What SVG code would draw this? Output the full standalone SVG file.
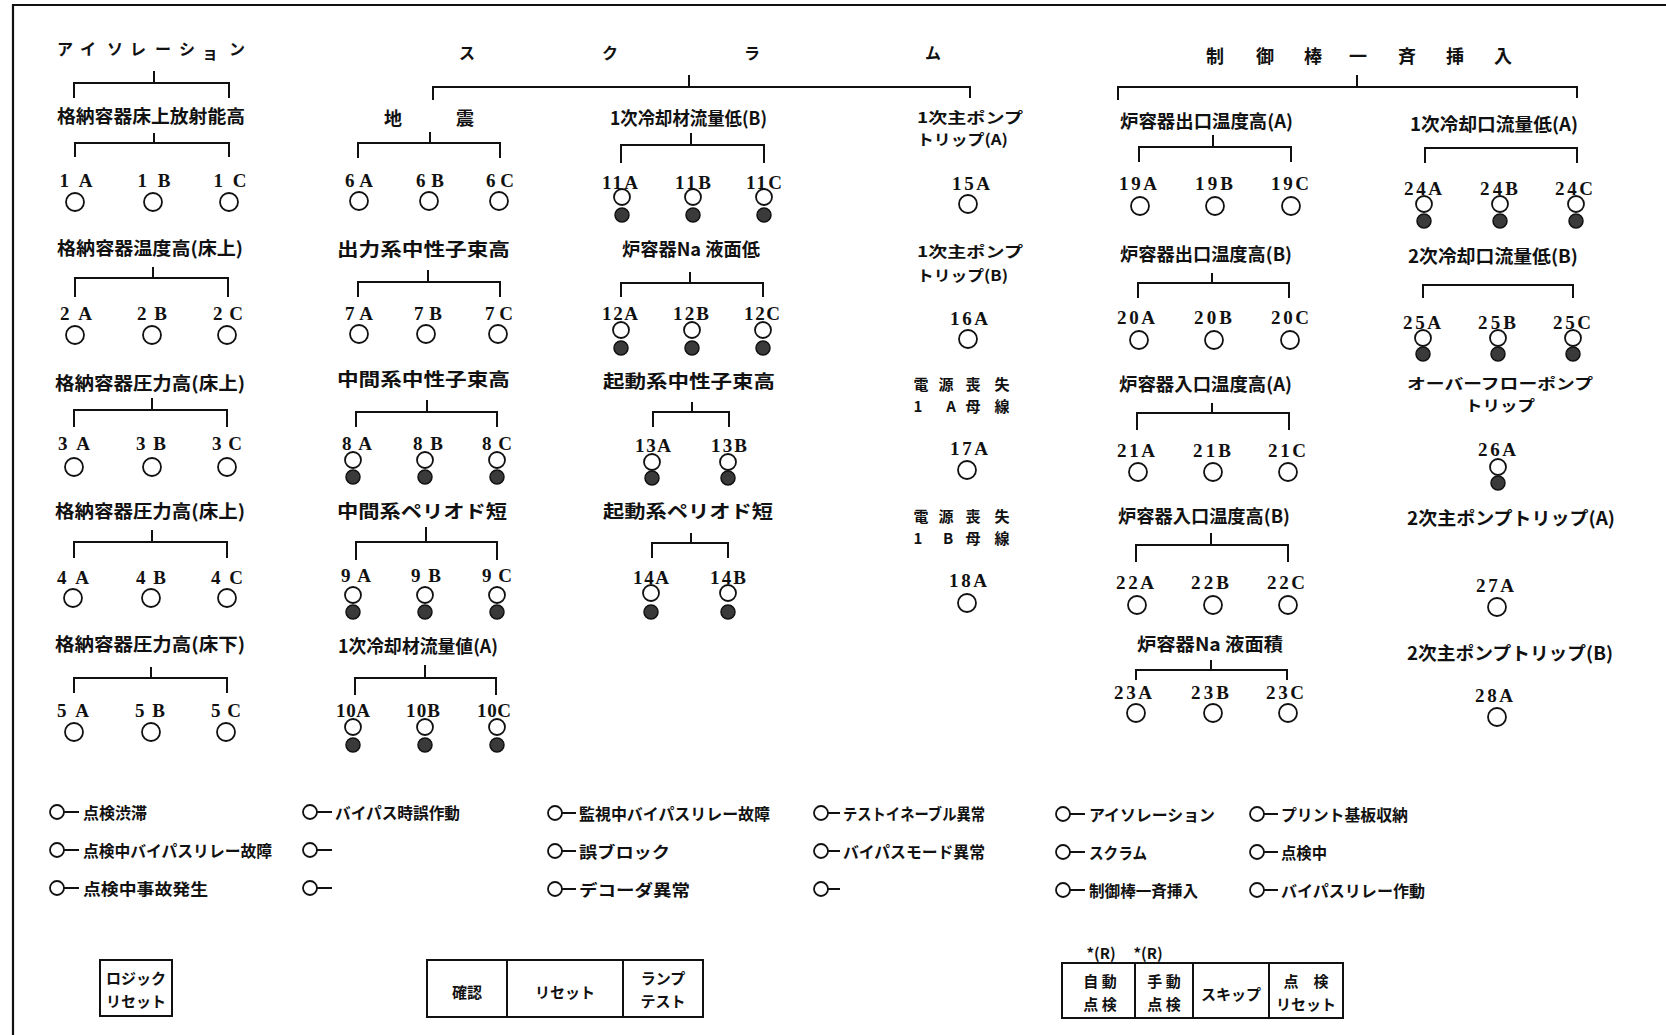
<svg xmlns="http://www.w3.org/2000/svg" width="1666" height="1035" viewBox="0 0 1666 1035">
<style>
.t{font-family:"Noto Sans CJK JP","Noto Sans CJK SC",sans-serif;font-size:18px;font-weight:700;fill:#111;dominant-baseline:central}
.t2{font-family:"Noto Sans CJK JP","Noto Sans CJK SC",sans-serif;font-size:15px;font-weight:700;fill:#111;dominant-baseline:central}
.s{font-family:"Noto Sans CJK JP","Noto Sans CJK SC",sans-serif;font-size:16px;font-weight:700;fill:#111;dominant-baseline:central}
.b{font-family:"Noto Sans CJK JP","Noto Sans CJK SC",sans-serif;font-size:15px;font-weight:700;fill:#111;dominant-baseline:central;text-anchor:middle}
.l{font-family:"Liberation Serif",serif;font-size:19px;font-weight:700;fill:#111;dominant-baseline:central;text-anchor:middle}
.m{text-anchor:middle}
.c{fill:#fff;stroke:#111;stroke-width:1.8}
.f{fill:#3a3a3a;stroke:#111;stroke-width:1.5}
.br{fill:none;stroke:#111;stroke-width:2}
.fr{fill:none;stroke:#111;stroke-width:2.2}
</style>
<rect width="1666" height="1035" fill="#fff"/>
<path class="fr" d="M13 1035 V5 H1666"/>
<g id="connectors">
<path class="br" d="M74 98 V83 H229 V98 M154 71 V83"/>
<path class="br" d="M75 157 V143 H229 V157 M154 133 V143"/>
<path class="br" d="M75 297 V278 H228 V297 M153 267 V278"/>
<path class="br" d="M74 427 V410 H227 V427 M152 398 V410"/>
<path class="br" d="M74 558 V542 H227 V558 M152 530 V542"/>
<path class="br" d="M74 693 V678 H227 V693 M151 667 V678"/>
<path class="br" d="M433 100 V87 H970 V98 M689 75 V87"/>
<path class="br" d="M358 158 V143 H500 V158 M430 132 V143"/>
<path class="br" d="M358 297 V282 H500 V297 M428 270 V282"/>
<path class="br" d="M356 427 V412 H497 V427 M427 400 V412"/>
<path class="br" d="M356 560 V542 H497 V560 M426 527 V542"/>
<path class="br" d="M355 695 V678 H496 V695 M425 665 V678"/>
<path class="br" d="M621 163 V145 H764 V163 M691 133 V145"/>
<path class="br" d="M621 297 V283 H763 V297 M690 272 V283"/>
<path class="br" d="M653 427 V412 H729 V427 M692 402 V412"/>
<path class="br" d="M652 558 V543 H728 V558 M691 533 V543"/>
<path class="br" d="M1118 100 V87 H1577 V98 M1357 75 V87"/>
<path class="br" d="M1139 162 V147 H1291 V162 M1213 135 V147"/>
<path class="br" d="M1138 298 V283 H1289 V298 M1212 273 V283"/>
<path class="br" d="M1137 430 V413 H1289 V430 M1212 403 V413"/>
<path class="br" d="M1136 562 V545 H1288 V562 M1211 533 V545"/>
<path class="br" d="M1136 680 V670 H1287 V680 M1211 660 V670"/>
<path class="br" d="M1425 163 V148 H1577 V163"/>
<path class="br" d="M1423 298 V285 H1573 V298"/>
</g>
<g id="title-isolation"><text class="s m" x="65 88 115 138 163 187" y="48">アイソレーシ</text><text class="s m" x="210" y="52" font-size="12">ョ</text><text class="s m" x="237" y="48">ン</text></g>
<g id="title-scram"><text class="s m" x="467 610 752 933" y="52">スクラム</text></g>
<g id="title-rod"><text class="t m" x="1215 1265 1313 1358 1407 1455 1503" y="55">制御棒一斉挿入</text></g>
<g id="h1"><text class="t" x="57" y="115" textLength="188" lengthAdjust="spacingAndGlyphs">格納容器床上放射能高</text></g>
<g id="h2"><text class="t" x="57" y="247" textLength="186" lengthAdjust="spacingAndGlyphs">格納容器温度高(床上)</text></g>
<g id="h3"><text class="t" x="55" y="382" textLength="190" lengthAdjust="spacingAndGlyphs">格納容器圧力高(床上)</text></g>
<g id="h4"><text class="t" x="55" y="510" textLength="190" lengthAdjust="spacingAndGlyphs">格納容器圧力高(床上)</text></g>
<g id="h5"><text class="t" x="55" y="643" textLength="190" lengthAdjust="spacingAndGlyphs">格納容器圧力高(床下)</text></g>
<g id="n1A"><text class="l" x="76" y="180" textLength="33">1 A</text><circle class="c" cx="75" cy="202" r="9"/></g>
<g id="n1B"><text class="l" x="154" y="180" textLength="33">1 B</text><circle class="c" cx="153" cy="202" r="9"/></g>
<g id="n1C"><text class="l" x="230" y="180" textLength="33">1 C</text><circle class="c" cx="229" cy="202" r="9"/></g>
<g id="n2A"><text class="l" x="76" y="313" textLength="32">2 A</text><circle class="c" cx="75" cy="335" r="9"/></g>
<g id="n2B"><text class="l" x="152" y="313" textLength="30">2 B</text><circle class="c" cx="152" cy="335" r="9"/></g>
<g id="n2C"><text class="l" x="228" y="313" textLength="30">2 C</text><circle class="c" cx="227" cy="335" r="9"/></g>
<g id="n3A"><text class="l" x="74" y="443" textLength="32">3 A</text><circle class="c" cx="74" cy="467" r="9"/></g>
<g id="n3B"><text class="l" x="151" y="443" textLength="30">3 B</text><circle class="c" cx="152" cy="467" r="9"/></g>
<g id="n3C"><text class="l" x="227" y="443" textLength="30">3 C</text><circle class="c" cx="227" cy="467" r="9"/></g>
<g id="n4A"><text class="l" x="73" y="577" textLength="32">4 A</text><circle class="c" cx="73" cy="598" r="9"/></g>
<g id="n4B"><text class="l" x="151" y="577" textLength="30">4 B</text><circle class="c" cx="151" cy="598" r="9"/></g>
<g id="n4C"><text class="l" x="227" y="577" textLength="32">4 C</text><circle class="c" cx="227" cy="598" r="9"/></g>
<g id="n5A"><text class="l" x="73" y="710" textLength="32">5 A</text><circle class="c" cx="74" cy="732" r="9"/></g>
<g id="n5B"><text class="l" x="150" y="710" textLength="30">5 B</text><circle class="c" cx="151" cy="732" r="9"/></g>
<g id="n5C"><text class="l" x="226" y="710" textLength="30">5 C</text><circle class="c" cx="226" cy="732" r="9"/></g>
<g id="h6"><text class="t m" x="393 465" y="117">地震</text></g>
<g id="h7"><text class="t" x="337" y="248" textLength="173" lengthAdjust="spacingAndGlyphs">出力系中性子束高</text></g>
<g id="h8"><text class="t" x="337" y="378" textLength="173" lengthAdjust="spacingAndGlyphs">中間系中性子束高</text></g>
<g id="h9"><text class="t" x="337" y="510" textLength="170" lengthAdjust="spacingAndGlyphs">中間系ペリオド短</text></g>
<g id="h10"><text class="t" x="338" y="645" textLength="160" lengthAdjust="spacingAndGlyphs">1次冷却材流量値(A)</text></g>
<g id="n6A"><text class="l" x="359" y="180" textLength="28">6 A</text><circle class="c" cx="359" cy="201" r="9"/></g>
<g id="n6B"><text class="l" x="430" y="180" textLength="28">6 B</text><circle class="c" cx="429" cy="201" r="9"/></g>
<g id="n6C"><text class="l" x="500" y="180" textLength="28">6 C</text><circle class="c" cx="499" cy="201" r="9"/></g>
<g id="n7A"><text class="l" x="359" y="313" textLength="28">7 A</text><circle class="c" cx="359" cy="334" r="9"/></g>
<g id="n7B"><text class="l" x="428" y="313" textLength="28">7 B</text><circle class="c" cx="426" cy="334" r="9"/></g>
<g id="n7C"><text class="l" x="499" y="313" textLength="28">7 C</text><circle class="c" cx="498" cy="334" r="9"/></g>
<g id="n8A"><text class="l" x="357" y="443" textLength="30">8 A</text><circle class="c" cx="353" cy="460" r="8"/><circle class="f" cx="353" cy="477" r="7"/></g>
<g id="n8B"><text class="l" x="428" y="443" textLength="30">8 B</text><circle class="c" cx="425" cy="460" r="8"/><circle class="f" cx="425" cy="477" r="7"/></g>
<g id="n8C"><text class="l" x="497" y="443" textLength="30">8 C</text><circle class="c" cx="497" cy="460" r="8"/><circle class="f" cx="497" cy="477" r="7"/></g>
<g id="n9A"><text class="l" x="356" y="575" textLength="30">9 A</text><circle class="c" cx="353" cy="595" r="8"/><circle class="f" cx="353" cy="612" r="7"/></g>
<g id="n9B"><text class="l" x="426" y="575" textLength="30">9 B</text><circle class="c" cx="425" cy="595" r="8"/><circle class="f" cx="425" cy="612" r="7"/></g>
<g id="n9C"><text class="l" x="497" y="575" textLength="30">9 C</text><circle class="c" cx="497" cy="595" r="8"/><circle class="f" cx="497" cy="612" r="7"/></g>
<g id="n10A"><text class="l" x="353" y="710" textLength="34">10A</text><circle class="c" cx="353" cy="727" r="8"/><circle class="f" cx="353" cy="745" r="7"/></g>
<g id="n10B"><text class="l" x="423" y="710" textLength="34">10B</text><circle class="c" cx="425" cy="727" r="8"/><circle class="f" cx="425" cy="745" r="7"/></g>
<g id="n10C"><text class="l" x="494" y="710" textLength="34">10C</text><circle class="c" cx="497" cy="727" r="8"/><circle class="f" cx="497" cy="745" r="7"/></g>
<g id="h11"><text class="t" x="610" y="117" textLength="157" lengthAdjust="spacingAndGlyphs">1次冷却材流量低(B)</text></g>
<g id="h12"><text class="t" x="622" y="248" textLength="138" lengthAdjust="spacingAndGlyphs">炉容器Na 液面低</text></g>
<g id="h13"><text class="t" x="603" y="380" textLength="172" lengthAdjust="spacingAndGlyphs">起動系中性子束高</text></g>
<g id="h14"><text class="t" x="603" y="510" textLength="170" lengthAdjust="spacingAndGlyphs">起動系ペリオド短</text></g>
<g id="n11A"><text class="l" x="620" y="182" textLength="36">11A</text><circle class="c" cx="622" cy="197" r="8"/><circle class="f" cx="622" cy="215" r="7"/></g>
<g id="n11B"><text class="l" x="693" y="182" textLength="36">11B</text><circle class="c" cx="693" cy="197" r="8"/><circle class="f" cx="693" cy="215" r="7"/></g>
<g id="n11C"><text class="l" x="764" y="182" textLength="36">11C</text><circle class="c" cx="764" cy="197" r="8"/><circle class="f" cx="764" cy="215" r="7"/></g>
<g id="n12A"><text class="l" x="620" y="313" textLength="36">12A</text><circle class="c" cx="621" cy="330" r="8"/><circle class="f" cx="621" cy="348" r="7"/></g>
<g id="n12B"><text class="l" x="691" y="313" textLength="36">12B</text><circle class="c" cx="692" cy="330" r="8"/><circle class="f" cx="692" cy="348" r="7"/></g>
<g id="n12C"><text class="l" x="762" y="313" textLength="36">12C</text><circle class="c" cx="763" cy="330" r="8"/><circle class="f" cx="763" cy="348" r="7"/></g>
<g id="n13A"><text class="l" x="653" y="445" textLength="36">13A</text><circle class="c" cx="652" cy="462" r="8"/><circle class="f" cx="652" cy="478" r="7"/></g>
<g id="n13B"><text class="l" x="729" y="445" textLength="36">13B</text><circle class="c" cx="728" cy="462" r="8"/><circle class="f" cx="728" cy="478" r="7"/></g>
<g id="n14A"><text class="l" x="651" y="577" textLength="36">14A</text><circle class="c" cx="651" cy="593" r="8"/><circle class="f" cx="651" cy="612" r="7"/></g>
<g id="n14B"><text class="l" x="728" y="577" textLength="36">14B</text><circle class="c" cx="728" cy="593" r="8"/><circle class="f" cx="728" cy="612" r="7"/></g>
<g id="h15"><text class="t2" x="917" y="116" textLength="106" lengthAdjust="spacingAndGlyphs">1次主ポンプ</text><text class="t2" x="917" y="138" textLength="91" lengthAdjust="spacingAndGlyphs">トリップ(A)</text></g>
<g id="n15A"><text class="l" x="971" y="183" textLength="38">15A</text><circle class="c" cx="968" cy="204" r="9"/></g>
<g id="h16"><text class="t2" x="917" y="250" textLength="106" lengthAdjust="spacingAndGlyphs">1次主ポンプ</text><text class="t2" x="917" y="274" textLength="91" lengthAdjust="spacingAndGlyphs">トリップ(B)</text></g>
<g id="n16A"><text class="l" x="969" y="318" textLength="38">16A</text><circle class="c" cx="968" cy="339" r="9"/></g>
<g id="h17"><text class="t2 m" x="921 946 973 1002" y="383">電源喪失</text><text class="t2 m" x="918 951 973 1002" y="405">1A母線</text></g>
<g id="n17A"><text class="l" x="969" y="448" textLength="38">17A</text><circle class="c" cx="967" cy="470" r="9"/></g>
<g id="h18"><text class="t2 m" x="921 946 973 1002" y="515">電源喪失</text><text class="t2 m" x="918 948 973 1002" y="537">1B母線</text></g>
<g id="n18A"><text class="l" x="968" y="580" textLength="38">18A</text><circle class="c" cx="967" cy="603" r="9"/></g>
<g id="h19"><text class="t" x="1120" y="120" textLength="173" lengthAdjust="spacingAndGlyphs">炉容器出口温度高(A)</text></g>
<g id="h20"><text class="t" x="1120" y="253" textLength="172" lengthAdjust="spacingAndGlyphs">炉容器出口温度高(B)</text></g>
<g id="h21"><text class="t" x="1119" y="383" textLength="173" lengthAdjust="spacingAndGlyphs">炉容器入口温度高(A)</text></g>
<g id="h22"><text class="t" x="1118" y="515" textLength="172" lengthAdjust="spacingAndGlyphs">炉容器入口温度高(B)</text></g>
<g id="h23"><text class="t" x="1137" y="643" textLength="146" lengthAdjust="spacingAndGlyphs">炉容器Na 液面積</text></g>
<g id="n19A"><text class="l" x="1138" y="183" textLength="38">19A</text><circle class="c" cx="1140" cy="206" r="9"/></g>
<g id="n19B"><text class="l" x="1214" y="183" textLength="38">19B</text><circle class="c" cx="1215" cy="206" r="9"/></g>
<g id="n19C"><text class="l" x="1290" y="183" textLength="38">19C</text><circle class="c" cx="1291" cy="206" r="9"/></g>
<g id="n20A"><text class="l" x="1136" y="317" textLength="38">20A</text><circle class="c" cx="1139" cy="340" r="9"/></g>
<g id="n20B"><text class="l" x="1213" y="317" textLength="38">20B</text><circle class="c" cx="1214" cy="340" r="9"/></g>
<g id="n20C"><text class="l" x="1290" y="317" textLength="38">20C</text><circle class="c" cx="1290" cy="340" r="9"/></g>
<g id="n21A"><text class="l" x="1136" y="450" textLength="38">21A</text><circle class="c" cx="1138" cy="472" r="9"/></g>
<g id="n21B"><text class="l" x="1212" y="450" textLength="38">21B</text><circle class="c" cx="1213" cy="472" r="9"/></g>
<g id="n21C"><text class="l" x="1287" y="450" textLength="38">21C</text><circle class="c" cx="1288" cy="472" r="9"/></g>
<g id="n22A"><text class="l" x="1135" y="582" textLength="38">22A</text><circle class="c" cx="1137" cy="605" r="9"/></g>
<g id="n22B"><text class="l" x="1210" y="582" textLength="38">22B</text><circle class="c" cx="1213" cy="605" r="9"/></g>
<g id="n22C"><text class="l" x="1286" y="582" textLength="38">22C</text><circle class="c" cx="1288" cy="605" r="9"/></g>
<g id="n23A"><text class="l" x="1133" y="692" textLength="38">23A</text><circle class="c" cx="1136" cy="713" r="9"/></g>
<g id="n23B"><text class="l" x="1210" y="692" textLength="38">23B</text><circle class="c" cx="1213" cy="713" r="9"/></g>
<g id="n23C"><text class="l" x="1285" y="692" textLength="38">23C</text><circle class="c" cx="1288" cy="713" r="9"/></g>
<g id="h24"><text class="t" x="1410" y="123" textLength="168" lengthAdjust="spacingAndGlyphs">1次冷却口流量低(A)</text></g>
<g id="h25"><text class="t" x="1408" y="255" textLength="170" lengthAdjust="spacingAndGlyphs">2次冷却口流量低(B)</text></g>
<g id="h26"><text class="t2" x="1407" y="382" textLength="186" lengthAdjust="spacingAndGlyphs">オーバーフローポンプ</text><text class="t2" x="1465" y="404" textLength="70" lengthAdjust="spacingAndGlyphs">トリップ</text></g>
<g id="h27"><text class="t" x="1407" y="517" textLength="208" lengthAdjust="spacingAndGlyphs">2次主ポンプトリップ(A)</text></g>
<g id="h28"><text class="t" x="1407" y="652" textLength="206" lengthAdjust="spacingAndGlyphs">2次主ポンプトリップ(B)</text></g>
<g id="n24A"><text class="l" x="1423" y="188" textLength="38">24A</text><circle class="c" cx="1424" cy="204" r="8"/><circle class="f" cx="1424" cy="221" r="7"/></g>
<g id="n24B"><text class="l" x="1499" y="188" textLength="38">24B</text><circle class="c" cx="1500" cy="204" r="8"/><circle class="f" cx="1500" cy="221" r="7"/></g>
<g id="n24C"><text class="l" x="1574" y="188" textLength="38">24C</text><circle class="c" cx="1576" cy="204" r="8"/><circle class="f" cx="1576" cy="221" r="7"/></g>
<g id="n25A"><text class="l" x="1422" y="322" textLength="38">25A</text><circle class="c" cx="1423" cy="338" r="8"/><circle class="f" cx="1423" cy="354" r="7"/></g>
<g id="n25B"><text class="l" x="1497" y="322" textLength="38">25B</text><circle class="c" cx="1498" cy="338" r="8"/><circle class="f" cx="1498" cy="354" r="7"/></g>
<g id="n25C"><text class="l" x="1572" y="322" textLength="38">25C</text><circle class="c" cx="1573" cy="338" r="8"/><circle class="f" cx="1573" cy="354" r="7"/></g>
<g id="n26A"><text class="l" x="1497" y="449" textLength="38">26A</text><circle class="c" cx="1498" cy="467" r="8"/><circle class="f" cx="1498" cy="483" r="7"/></g>
<g id="n27A"><text class="l" x="1495" y="585" textLength="38">27A</text><circle class="c" cx="1497" cy="607" r="9"/></g>
<g id="n28A"><text class="l" x="1494" y="695" textLength="38">28A</text><circle class="c" cx="1497" cy="717" r="9"/></g>
<g id="legend">
<g id="lg-a1"><circle class="c" cx="57" cy="812" r="7"/><path class="br" d="M64 812 H79"/><text class="s" x="83" y="812" textLength="64" lengthAdjust="spacingAndGlyphs">点検渋滞</text></g>
<g id="lg-a2"><circle class="c" cx="57" cy="850" r="7"/><path class="br" d="M64 850 H79"/><text class="s" x="83" y="850" textLength="189" lengthAdjust="spacingAndGlyphs">点検中バイパスリレー故障</text></g>
<g id="lg-a3"><circle class="c" cx="57" cy="888" r="7"/><path class="br" d="M64 888 H79"/><text class="s" x="83" y="888" textLength="125" lengthAdjust="spacingAndGlyphs">点検中事故発生</text></g>
<g id="lg-b1"><circle class="c" cx="310" cy="812" r="7"/><path class="br" d="M317 812 H332"/><text class="s" x="335" y="812" textLength="125" lengthAdjust="spacingAndGlyphs">バイパス時誤作動</text></g>
<g id="lg-b2"><circle class="c" cx="310" cy="850" r="7"/><path class="br" d="M317 850 H332"/></g>
<g id="lg-b3"><circle class="c" cx="310" cy="888" r="7"/><path class="br" d="M317 888 H332"/></g>
<g id="lg-c1"><circle class="c" cx="555" cy="813" r="7"/><path class="br" d="M562 813 H576"/><text class="s" x="579" y="813" textLength="191" lengthAdjust="spacingAndGlyphs">監視中バイパスリレー故障</text></g>
<g id="lg-c2"><circle class="c" cx="555" cy="851" r="7"/><path class="br" d="M562 851 H576"/><text class="s" x="579" y="851" textLength="91" lengthAdjust="spacingAndGlyphs">誤ブロック</text></g>
<g id="lg-c3"><circle class="c" cx="555" cy="889" r="7"/><path class="br" d="M562 889 H576"/><text class="s" x="579" y="889" textLength="111" lengthAdjust="spacingAndGlyphs">デコーダ異常</text></g>
<g id="lg-d1"><circle class="c" cx="821" cy="813" r="7"/><path class="br" d="M828 813 H840"/><text class="s" x="843" y="813" textLength="142" lengthAdjust="spacingAndGlyphs">テストイネーブル異常</text></g>
<g id="lg-d2"><circle class="c" cx="821" cy="851" r="7"/><path class="br" d="M828 851 H840"/><text class="s" x="843" y="851" textLength="142" lengthAdjust="spacingAndGlyphs">バイパスモード異常</text></g>
<g id="lg-d3"><circle class="c" cx="821" cy="889" r="7"/><path class="br" d="M828 889 H840"/></g>
<g id="lg-e1"><circle class="c" cx="1063" cy="814" r="7"/><path class="br" d="M1070 814 H1085"/><text class="s" x="1089" y="814" textLength="126" lengthAdjust="spacingAndGlyphs">アイソレーション</text></g>
<g id="lg-e2"><circle class="c" cx="1063" cy="852" r="7"/><path class="br" d="M1070 852 H1085"/><text class="s" x="1089" y="852" textLength="58" lengthAdjust="spacingAndGlyphs">スクラム</text></g>
<g id="lg-e3"><circle class="c" cx="1063" cy="890" r="7"/><path class="br" d="M1070 890 H1085"/><text class="s" x="1089" y="890" textLength="109" lengthAdjust="spacingAndGlyphs">制御棒一斉挿入</text></g>
<g id="lg-f1"><circle class="c" cx="1257" cy="814" r="7"/><path class="br" d="M1264 814 H1278"/><text class="s" x="1281" y="814" textLength="127" lengthAdjust="spacingAndGlyphs">プリント基板収納</text></g>
<g id="lg-f2"><circle class="c" cx="1257" cy="852" r="7"/><path class="br" d="M1264 852 H1278"/><text class="s" x="1281" y="852" textLength="46" lengthAdjust="spacingAndGlyphs">点検中</text></g>
<g id="lg-f3"><circle class="c" cx="1257" cy="890" r="7"/><path class="br" d="M1264 890 H1278"/><text class="s" x="1281" y="890" textLength="144" lengthAdjust="spacingAndGlyphs">バイパスリレー作動</text></g>
</g>
<g id="btn-logic"><rect class="br" x="100" y="960" width="72" height="56"/><text class="b" x="136" y="977">ロジック</text><text class="b" x="136" y="1000">リセット</text></g>
<g id="btn-panel1"><rect class="br" x="427" y="960" width="276" height="57"/><path class="br" d="M507 960 V1017 M623 960 V1017"/><text class="b" x="467" y="991" font-size="17">確認</text><text class="b" x="565" y="991">リセット</text><text class="b" x="663" y="977">ランプ</text><text class="b" x="663" y="1000">テスト</text></g>
<g id="btn-panel2"><text class="b" x="1101" y="952" font-family="Liberation Serif">*(R)</text><text class="b" x="1148" y="952" font-family="Liberation Serif">*(R)</text><rect class="br" x="1062" y="963" width="281" height="55"/><path class="br" d="M1135 963 V1018 M1193 963 V1018 M1269 963 V1018"/><text class="b" x="1100" y="980" font-size="17">自 動</text><text class="b" x="1100" y="1003" font-size="17">点 検</text><text class="b" x="1164" y="980" font-size="17">手 動</text><text class="b" x="1164" y="1003" font-size="17">点 検</text><text class="b" x="1231" y="993">スキップ</text><text class="b" x="1306" y="980" font-size="17">点　検</text><text class="b" x="1306" y="1003">リセット</text></g>
</svg>
